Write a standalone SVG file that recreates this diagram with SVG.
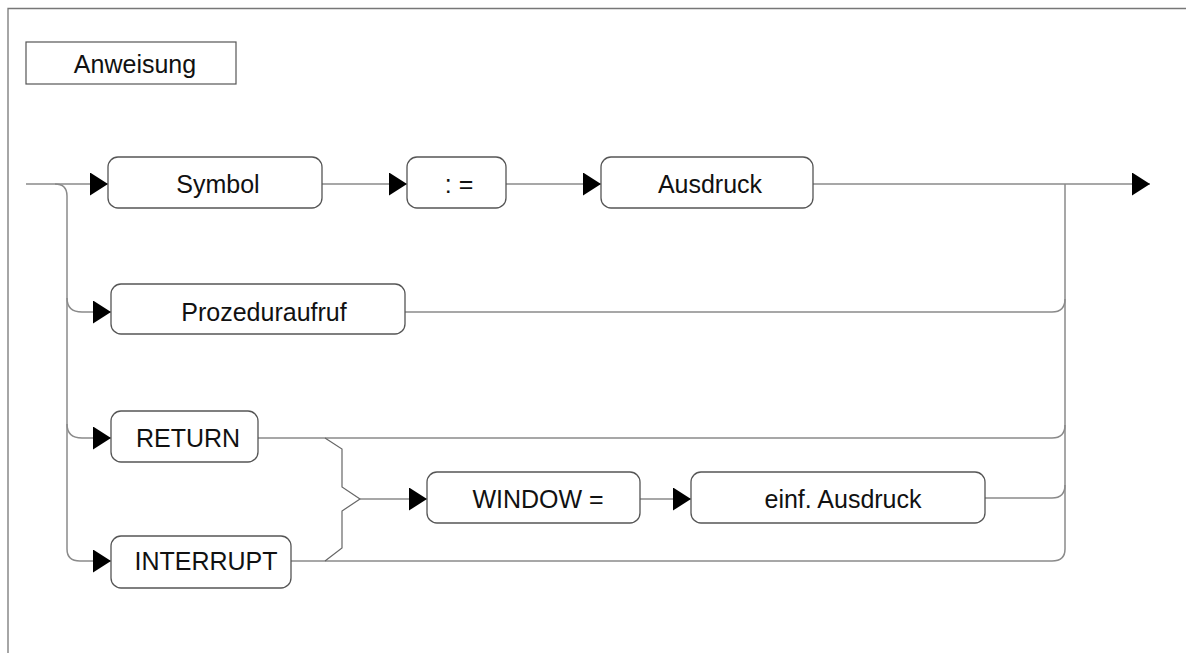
<svg xmlns="http://www.w3.org/2000/svg" width="1186" height="653" viewBox="0 0 1186 653">
  <style>
    .frame { fill: none; stroke: #777; stroke-width: 1.3; }
    .box { fill: #fff; stroke: #555; stroke-width: 1.3; }
    .title { fill: #fff; stroke: #555; stroke-width: 1.2; }
    .lbl { font-family: "Liberation Sans", Arial, sans-serif; font-size: 25px; fill: #111; text-anchor: middle; }
    .wire { fill: none; stroke: #8a8a8a; stroke-width: 1.5; }
    .fork { fill: none; stroke: #666; stroke-width: 1.2; }
  </style>
  <defs>
    <marker id="head" markerUnits="userSpaceOnUse" markerWidth="18" markerHeight="24" refX="18" refY="11.5" orient="auto">
      <path d="M0,0 L18,11.5 L0,23 Z" fill="#000"/>
    </marker>
  </defs>

  <rect width="1186" height="653" fill="#fff"/>
  <!-- page frame (top and left edges) -->
  <path class="frame" d="M8,653 L8,8.5 L1186,8.5"/>

  <g id="connectors">
    <!-- main track -->
    <path class="wire" d="M26,184 L108,184" marker-end="url(#head)"/>
    <path class="wire" d="M322,184 L407,184" marker-end="url(#head)"/>
    <path class="wire" d="M506,184 L601,184" marker-end="url(#head)"/>
    <path class="wire" d="M813,184 L1150,184" marker-end="url(#head)"/>

    <!-- left fan-out -->
    <path class="wire" d="M55,184 Q67,184 67,196 L67,549 Q67,561 80,561 L111,561" marker-end="url(#head)"/>
    <path class="wire" d="M67,298 Q67,312 82,312 L111,312" marker-end="url(#head)"/>
    <path class="wire" d="M67,424 Q67,438 82,438 L111,438" marker-end="url(#head)"/>

    <!-- right collector -->
    <path class="wire" d="M1065,184 L1065,549 Q1065,561 1052,561 L291,561"/>
    <path class="wire" d="M405,312 L1052,312 Q1065,312 1065,299"/>
    <path class="wire" d="M258,438 L1052,438 Q1065,438 1065,425"/>
    <path class="wire" d="M985,498 L1052,498 Q1065,498 1065,485"/>

    <!-- RETURN / INTERRUPT join into WINDOW = -->
    <path class="fork" d="M325,438 L342,449 L342,487 L360,499 L342,511 L342,548 L325,561"/>
    <path class="wire" d="M360,499 L427,499" marker-end="url(#head)"/>
    <path class="wire" d="M640,499 L691,499" marker-end="url(#head)"/>
  </g>

  <g id="title">
    <rect class="title" x="26" y="42" width="210" height="42"/>
    <text class="lbl" x="135" y="73">Anweisung</text>
  </g>

  <g id="symbol">
    <rect class="box" x="108" y="157" width="214" height="51" rx="10"/>
    <text class="lbl" x="218" y="193">Symbol</text>
  </g>
  <g id="assign">
    <rect class="box" x="407" y="157" width="99" height="51" rx="10"/>
    <text class="lbl" x="459" y="193">: =</text>
  </g>
  <g id="ausdruck">
    <rect class="box" x="601" y="157" width="212" height="51" rx="10"/>
    <text class="lbl" x="710" y="193">Ausdruck</text>
  </g>
  <g id="prozeduraufruf">
    <rect class="box" x="111" y="284" width="294" height="50" rx="10"/>
    <text class="lbl" x="264" y="321">Prozeduraufruf</text>
  </g>
  <g id="return">
    <rect class="box" x="111" y="411" width="147" height="51" rx="10"/>
    <text class="lbl" x="188" y="447">RETURN</text>
  </g>
  <g id="interrupt">
    <rect class="box" x="111" y="536" width="180" height="52" rx="10"/>
    <text class="lbl" x="206" y="570">INTERRUPT</text>
  </g>
  <g id="window">
    <rect class="box" x="427" y="472" width="213" height="51" rx="10"/>
    <text class="lbl" x="538" y="508">WINDOW =</text>
  </g>
  <g id="einf-ausdruck">
    <rect class="box" x="691" y="472" width="294" height="51" rx="10"/>
    <text class="lbl" x="843" y="508">einf. Ausdruck</text>
  </g>
</svg>
